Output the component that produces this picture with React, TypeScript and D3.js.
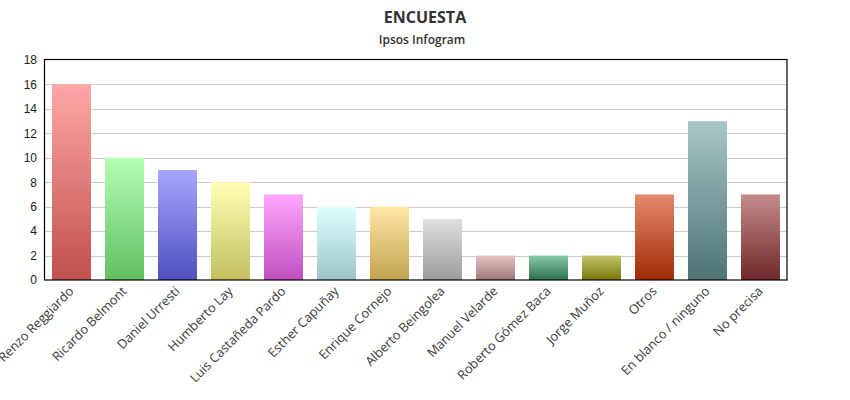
import React from "react";
import * as d3 from "d3";

const categories = [
  "Renzo Reggiardo",
  "Ricardo Belmont",
  "Daniel Urresti",
  "Humberto Lay",
  "Luis Castañeda Pardo",
  "Esther Capuñay",
  "Enrique Cornejo",
  "Alberto Beingolea",
  "Manuel Velarde",
  "Roberto Gómez Baca",
  "Jorge Muñoz",
  "Otros",
  "En blanco / ninguno",
  "No precisa",
];
const values = [16, 10, 9, 8, 7, 6, 6, 5, 2, 2, 2, 7, 13, 7];
const topColors = [
  "#ffa6a6", "#b3ffb3", "#a6a6ff", "#ffffb3", "#ffa6ff", "#e0ffff", "#ffe8a6",
  "#e0e0e0", "#e5c4c4", "#88c8a8", "#c4c46a", "#e58a6c", "#a9c6c6", "#c48a8a",
];
const bottomColors = [
  "#c0504d", "#60bf60", "#4f4fbf", "#c2c060", "#bf4fbf", "#9cc4c4", "#c2a24f",
  "#9c9c9c", "#9e7878", "#2b7050", "#777708", "#a02a05", "#4e7474", "#70282a",
];
const yTicks = [0, 2, 4, 6, 8, 10, 12, 14, 16, 18];
const title = "ENCUESTA";
const subtitle = "Ipsos Infogram";

export default function App() {
  const W = 850, H = 400;
  const left = 44.5, right = 787, top = 59.5, bottom = 280;
  const x = d3.scaleBand<string>().domain(categories).range([45, 787]).paddingInner(0.264).paddingOuter(0.132);
  const y = d3.scaleLinear().domain([0, 18]).range([bottom, top + 0.5]);
  return (
    <svg width={W} height={H} style={{ position: "absolute", left: 0, top: 0, background: "#fff" }}>
      <defs>
        {categories.map((c, i) => (
          <linearGradient key={c} id={`g${i}`} x1="0" y1="0" x2="0" y2="1">
            <stop offset="0%" stopColor={topColors[i]} />
            <stop offset="100%" stopColor={bottomColors[i]} />
          </linearGradient>
        ))}
      </defs>
      <text x={425} y={23} textAnchor="middle" fontFamily="'Open Sans'" fontWeight={700} fontSize={16} fill="#333">{title}</text>
      <text x={422} y={44} textAnchor="middle" fontFamily="'Open Sans'" fontWeight={600} fontSize={12} fill="#333">{subtitle}</text>
      {yTicks.map((t) => (
        <g key={t}>
          {t > 0 && t < 18 && (
            <line x1={left} x2={right} y1={Math.round(y(t)) + 0.5} y2={Math.round(y(t)) + 0.5} stroke="#cccccc" strokeWidth={1} />
          )}
          <text x={37} y={y(t)} dy="0.36em" textAnchor="end" fontFamily="'Liberation Sans', Arial" fontSize={12} fill="#222">{t}</text>
        </g>
      ))}
      {categories.map((c, i) => (
        <rect key={c} x={x(c)} y={y(values[i])} width={x.bandwidth()} height={bottom - y(values[i])} fill={`url(#g${i})`} />
      ))}
      <rect x={left} y={top} width={right - left} height={bottom - top} fill="none" stroke="#000" strokeWidth={1.2} />
      {categories.map((c) => {
        const cx = (x(c) as number) + x.bandwidth() / 2 + 3;
        const cy = 292;
        return (
          <text key={c} x={cx} y={cy} textAnchor="end" transform={`rotate(-45, ${cx}, ${cy})`} fontFamily="'Open Sans'" fontSize={12.8} fill="#3a3a3a">{c}</text>
        );
      })}
    </svg>
  );
}
